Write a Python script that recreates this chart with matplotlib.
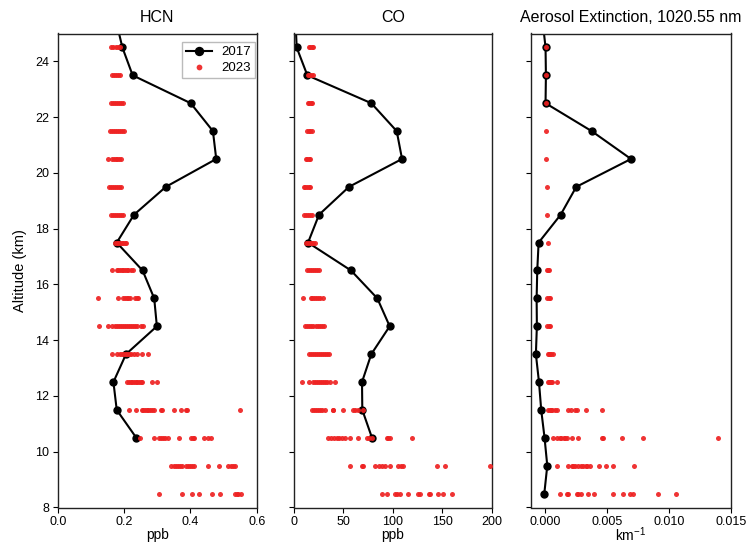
import matplotlib
matplotlib.use("Agg")
import matplotlib.pyplot as plt

plt.rcParams['font.family'] = ['Liberation Sans', 'DejaVu Sans']
plt.rcParams['mathtext.fontset'] = 'custom'
plt.rcParams['mathtext.rm'] = 'Liberation Sans'
plt.rcParams['mathtext.it'] = 'Liberation Sans'

# ---------------- data ----------------
alt_2023 = [8.5, 9.5, 10.5, 11.5, 12.5, 13.5, 14.5, 15.5, 16.5, 17.5,
            18.5, 19.5, 20.5, 21.5, 22.5, 23.5, 24.5]

hcn_2023 = [
    [0.306, 0.374, 0.404, 0.427, 0.464, 0.489, 0.535, 0.540, 0.545, 0.553],
    [0.342, 0.350, 0.356, 0.362, 0.368, 0.374, 0.387, 0.393, 0.398, 0.404, 0.412, 0.454, 0.486, 0.514, 0.522, 0.530, 0.535],
    [0.248, 0.291, 0.306, 0.312, 0.318, 0.324, 0.332, 0.366, 0.402, 0.407, 0.412, 0.442, 0.452, 0.462],
    [0.215, 0.237, 0.253, 0.258, 0.263, 0.268, 0.273, 0.279, 0.284, 0.291, 0.311, 0.315, 0.351, 0.372, 0.388, 0.391, 0.550],
    [0.210, 0.215, 0.220, 0.225, 0.230, 0.235, 0.240, 0.245, 0.250, 0.255, 0.283, 0.298],
    [0.163, 0.178, 0.188, 0.195, 0.200, 0.205, 0.210, 0.215, 0.222, 0.230, 0.240, 0.255, 0.273],
    [0.125, 0.153, 0.163, 0.172, 0.180, 0.185, 0.190, 0.196, 0.202, 0.208, 0.215, 0.220, 0.226, 0.232, 0.240, 0.250, 0.258],
    [0.121, 0.181, 0.198, 0.203, 0.208, 0.213, 0.218, 0.232, 0.238, 0.243],
    [0.163, 0.178, 0.183, 0.188, 0.193, 0.198, 0.203, 0.208, 0.213, 0.220, 0.228],
    [0.173, 0.178, 0.183, 0.188, 0.193, 0.198, 0.203, 0.207],
    [0.162, 0.168, 0.174, 0.180, 0.186, 0.192, 0.198],
    [0.156, 0.162, 0.168, 0.174, 0.180, 0.186, 0.192],
    [0.153, 0.165, 0.170, 0.175, 0.180, 0.186, 0.192],
    [0.159, 0.165, 0.171, 0.177, 0.183, 0.189, 0.194, 0.199],
    [0.162, 0.168, 0.174, 0.180, 0.186, 0.191, 0.196],
    [0.164, 0.170, 0.176, 0.182, 0.189],
    [0.162, 0.168, 0.175, 0.182, 0.188],
]

co_2023 = [
    [88.7, 93.8, 102.0, 104.5, 107.0, 115.6, 125.7, 127.5, 136.9, 137.6, 145.4, 151.0, 160.2],
    [56.7, 68.5, 70.1, 82.0, 85.5, 89.0, 92.5, 97.0, 105.5, 108.0, 110.6, 144.4, 152.8, 198.3],
    [34.7, 37.5, 40.0, 43.0, 46.0, 49.0, 52.0, 56.7, 65.0, 74.0, 76.0, 78.6, 93.8, 95.5, 97.1, 119.0],
    [18.2, 20.5, 22.5, 24.5, 26.5, 28.5, 31.4, 39.1, 39.8, 49.2, 60.0, 62.0, 65.0, 69.5],
    [7.8, 15.5, 19.5, 21.5, 23.5, 25.5, 27.5, 29.5, 31.5, 33.5, 36.4, 41.5],
    [15.5, 17.5, 19.5, 21.5, 23.5, 25.5, 27.5, 29.5, 31.5, 33.5, 35.7],
    [11.1, 13.0, 15.0, 17.0, 18.9, 21.9, 24.0, 26.0, 28.0, 30.4],
    [9.4, 16.9, 18.5, 20.5, 22.5, 24.5, 26.5, 29.0],
    [13.5, 15.5, 17.5, 19.5, 21.5, 23.5, 25.6],
    [12.0, 14.0, 16.0, 18.0, 19.5, 21.0],
    [10.5, 12.5, 14.5, 16.5, 18.5],
    [9.8, 11.5, 13.0, 14.8, 16.5],
    [12.0, 13.5, 15.0, 16.5],
    [13.5, 15.0, 16.5, 18.0],
    [14.0, 15.5, 17.0, 18.5],
    [14.0, 15.5, 17.5, 19.6],
    [15.2, 16.5, 18.0, 19.6],
]

aer_2023 = [
    [0.0012, 0.0018, 0.0019, 0.0026, 0.0027, 0.0029, 0.0035, 0.0040, 0.0055, 0.0063, 0.0069, 0.0071, 0.0091, 0.0106],
    [0.0010, 0.0019, 0.0022, 0.0023, 0.0024, 0.0027, 0.0029, 0.0031, 0.0033, 0.0034, 0.0036, 0.0044, 0.0049, 0.0055, 0.0072],
    [0.00062, 0.0010, 0.0012, 0.0013, 0.0015, 0.0016, 0.0018, 0.0022, 0.0027, 0.0046, 0.0047, 0.0062, 0.0079, 0.0140],
    [0.00027, 0.0004, 0.0005, 0.0006, 0.0008, 0.0010, 0.0019, 0.0021, 0.0024, 0.0026, 0.0033, 0.0046],
    [0.00022, 0.0003, 0.0004, 0.0005, 0.0006, 0.00094],
    [0.00022, 0.0003, 0.0004, 0.0005, 0.00067],
    [0.0002, 0.0003, 0.0004],
    [0.0002, 0.0003, 0.0004],
    [0.0002, 0.00028, 0.00035],
    [0.00026],
    [0.0002],
    [0.00015],
    [0.00012],
    [0.0001],
    [0.00005],
    [0.00007],
    [0.00005],
]

alt_2017 = [10.5, 11.5, 12.5, 13.5, 14.5, 15.5, 16.5, 17.5, 18.5, 19.5,
            20.5, 21.5, 22.5, 23.5, 24.5, 25.5]
hcn_2017 = [0.237, 0.178, 0.168, 0.206, 0.299, 0.291, 0.256, 0.178, 0.230,
            0.326, 0.478, 0.468, 0.401, 0.226, 0.195, 0.175]
co_2017 = [78.9, 69.1, 68.8, 78.2, 96.8, 84.3, 57.7, 14.2, 25.3, 55.6,
           109.3, 103.9, 78.2, 13.5, 2.7, 1.5]

alt_aer_2017 = [8.5, 9.5, 10.5, 11.5, 12.5, 13.5, 14.5, 15.5, 16.5, 17.5,
                18.5, 19.5, 20.5, 21.5, 22.5, 23.5, 24.5, 25.5]
aer_2017 = [-0.00005, 0.00019, -0.00003, -0.0003, -0.00048, -0.00073,
            -0.00065, -0.00067, -0.00062, -0.00051, 0.00127, 0.00253,
            0.00695, 0.00377, 0.00005, 0.00008, 0.00005, -0.0002]

titles = ["HCN", "CO", "Aerosol Extinction, 1020.55 nm"]
xlabels = ["ppb", "ppb", "km$^{-1}$"]
xlims = [(0, 0.6), (0, 200), (-0.0011, 0.015)]
xticks = [[0.0, 0.2, 0.4, 0.6], [0, 50, 100, 150, 200], [0.000, 0.005, 0.010, 0.015]]
xticklabels = [["0.0", "0.2", "0.4", "0.6"], ["0", "50", "100", "150", "200"],
               ["0.000", "0.005", "0.010", "0.015"]]
yticks = [8, 10, 12, 14, 16, 18, 20, 22, 24]

# ---------------- figure ----------------
W, H = 747, 543
fig = plt.figure(figsize=(W / 100, H / 100), dpi=100)

lefts = [57.7, 294.0, 531.3]
widths = [199.0, 197.7, 199.4]
top_px, bot_px = 33.5, 507.5
ah = bot_px - top_px

red = '#ee2222'
line_x = [hcn_2017, co_2017, aer_2017]
line_y = [alt_2017, alt_2017, alt_aer_2017]
scat = [hcn_2023, co_2023, aer_2023]
label_base_px = [539.0, 539.0, 540.5]

for i in range(3):
    ax = fig.add_axes([lefts[i] / W, 1 - bot_px / H, widths[i] / W, ah / H])
    ax.plot(line_x[i], line_y[i], '-o', color='black', lw=1.5, ms=5,
            label='2017', zorder=2)
    xs, ys = [], []
    for a, vals in zip(alt_2023, scat[i]):
        for v in vals:
            xs.append(v)
            ys.append(a)
    ax.plot(xs, ys, 'o', color=red, ms=3.6, mew=0, alpha=0.92, label='2023', zorder=3)
    ax.set_ylim(8, 25)
    ax.set_xlim(*xlims[i])
    ax.set_xticks(xticks[i])
    ax.set_xticklabels(xticklabels[i])
    ax.set_yticks(yticks)
    if i == 0:
        ax.set_ylabel("Altitude (km)", fontsize=10.5, va='center')
        ax.yaxis.set_label_coords((20 - lefts[0]) / widths[0], 0.5)
        ax.legend(loc='upper right', fontsize=9.5, fancybox=False,
                  edgecolor='#bbbbbb', framealpha=1, handlelength=2.0,
                  borderaxespad=0, borderpad=0.3, labelspacing=0.3,
                  handletextpad=0.7, markerscale=1.15,
                  bbox_to_anchor=(1 - 1.7 / widths[0], 1 - 8.5 / ah))
    else:
        ax.set_yticklabels([])
    ax.set_title(titles[i], fontsize=11.5, pad=8)
    lab = ax.set_xlabel(xlabels[i], fontsize=10)
    lab.set_va('baseline')
    ax.xaxis.set_label_coords(0.5, (bot_px - label_base_px[i]) / ah)
    ax.tick_params(labelsize=9, length=3.5, width=0.8, pad=2.5)
    for s in ax.spines.values():
        s.set_linewidth(1.0)
        s.set_color('#222222')

fig.savefig("out.png", dpi=100)
